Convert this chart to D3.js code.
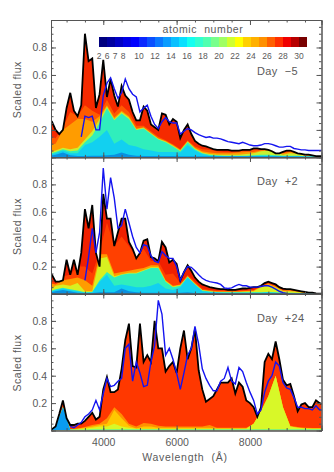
<!DOCTYPE html>
<html>
<head>
<meta charset="utf-8">
<script src="https://cdn.jsdelivr.net/npm/d3@7"></script>
<style>
body { margin: 0; background: #fff; }
svg { display: block; }
text { font-family: "Liberation Sans", sans-serif; fill: #5a5a5a; white-space: pre; }
.axis path, .axis line { stroke: #555; }
.axis text { font-size: 10.5px; fill: #5a5a5a; font-family: "Liberation Sans", sans-serif; }
</style>
</head>
<body>
<div id="chart"></div>
<script>
// flux grid: 2500..10000 A every 100 A (76 values), layer grid: 2500..10100 every 200 A (39 values)
const fluxWave = d3.range(2500, 10001, 100);
const layerWave = d3.range(2500, 10101, 200);

// Day -5
const totalA = [.28,.26,.20,.17,.20,.36,.47,.34,.30,.38,
  .90,.70,.72,.36,.46,.71,.44,.57,.45,.37,
  .52,.45,.42,.33,.27,.27,.37,.34,.24,.22,
  .20,.32,.31,.24,.28,.26,.14,.20,.24,.17,
  .12,.10,.085,.08,.07,.06,.055,.055,.055,.055,
  .05,.05,.05,.055,.055,.055,.065,.065,.06,.06,
  .055,.045,.03,.03,.04,.05,.05,.04,.03,.025,
  .02,.02,.015,.01,.01,.01];
const observedA = [null,null,null,null,null,null,null,null,null,.15,
  .30,.29,.30,.20,.20,.45,.54,.58,.50,.43,
  .47,.57,.50,.46,.44,.33,.36,.38,.30,.24,
  .21,.26,.29,.26,.25,.25,.17,.19,.21,.20,
  .18,.165,.155,.145,.15,.14,.14,.135,.125,.115,
  .11,.105,.10,.11,.10,.09,.085,.085,.09,.10,
  .10,.095,.085,.075,.075,.08,.08,.065,.06,.055,
  .055,.05,.05,.05,.05,.05];
const blueA = [.01,.02,.035,.015,.01,.01,.012,.012,.015,.02,
  .035,.02,.012,.01,.01,.01,.01,.01,.008,.008,
  .008,.008,.008,.008,.008,.008,.008,.008,.008,.008,
  .008,.008,.006,.006,.006,.005,.005,.005,.005];
const cyanA = [.02,.03,.05,.03,.03,.09,.11,.15,.20,.10,
  .13,.09,.08,.06,.05,.04,.04,.04,.035,.09,
  .05,.025,.012,.01,.01,.01,.01,.01,.01,.01,
  .01,.01,.008,.008,.008,.006,.006,.005,.005];
const tealA = [.025,.04,.06,.045,.05,.11,.16,.25,.36,.27,
  .32,.28,.20,.21,.17,.13,.11,.08,.045,.11,
  .06,.03,.02,.015,.012,.012,.012,.012,.015,.02,
  .02,.015,.012,.012,.012,.008,.006,.005,.005];
const limeA = [.03,.05,.07,.06,.07,.13,.19,.28,.37,.28,
  .33,.29,.205,.215,.175,.135,.115,.085,.05,.115,
  .065,.035,.025,.02,.02,.02,.02,.025,.03,.045,
  .05,.035,.02,.03,.025,.012,.008,.006,.005];
const orangeA = [.09,.10,.20,.24,.28,.28,.26,.30,.38,.29,
  .34,.30,.21,.22,.18,.14,.12,.09,.055,.12,
  .07,.045,.035,.03,.03,.03,.035,.04,.04,.05,
  .052,.037,.03,.04,.03,.018,.012,.008,.006];
const redOrangeA = [.16,.14,.22,.33,.30,.38,.34,.31,.42,.32,
  .38,.33,.23,.23,.19,.15,.125,.095,.06,.125,
  .08,.06,.055,.045,.04,.04,.045,.05,.055,.055,
  .055,.04,.032,.045,.03,.02,.014,.01,.008];

// Day +2
const totalB = [.15,.14,.09,.09,.10,.25,.14,.25,.14,.30,
  .62,.48,.65,.30,.20,.73,.55,.55,.35,.45,
  .55,.55,.38,.33,.26,.30,.39,.40,.27,.26,
  .24,.38,.34,.23,.25,.22,.10,.16,.21,.17,
  .12,.09,.07,.06,.05,.045,.04,.035,.035,.03,
  .03,.03,.035,.04,.04,.045,.05,.05,.06,.08,
  .09,.08,.07,.05,.04,.035,.035,.03,.025,.02,
  .015,.01,.01,.005,.003,.002];
const observedB = [null,null,null,null,null,null,null,null,null,null,
  .10,.27,.48,.30,.45,.92,.62,.85,.70,.48,
  .50,.62,.52,.42,.34,.30,.36,.35,.28,.24,
  .23,.31,.28,.26,.26,.20,.10,.16,.20,.195,
  .17,.14,.115,.10,.09,.085,.08,.07,.045,.04,
  .045,.06,.07,.06,.06,.05,.05,.05,.055,.06,
  .06,.05,.035,.02,.01,.005,null,null,null,null,
  null,null,null,null,null,null];
const blueB = [.008,.02,.03,.02,.01,.008,.008,.012,.012,.012,
  .04,.02,.012,.01,.01,.01,.01,.01,.01,.012,
  .008,.006,.006,.006,.006,.006,.006,.006,.006,.006,
  .006,.006,.005,.005,.004,.003,.002,.002,.002];
const cyanB = [.012,.03,.04,.03,.02,.01,.012,.09,.14,.06,
  .07,.06,.05,.05,.06,.08,.04,.03,.05,.12,
  .07,.02,.015,.012,.01,.01,.01,.01,.01,.01,
  .012,.01,.008,.008,.006,.004,.003,.002,.002];
const tealB = [.015,.035,.045,.035,.025,.012,.015,.10,.16,.12,
  .14,.15,.15,.17,.19,.19,.09,.05,.06,.125,
  .07,.025,.018,.012,.012,.012,.012,.012,.012,.012,
  .014,.012,.01,.01,.008,.005,.004,.002,.002];
const limeB = [.02,.06,.07,.06,.08,.02,.02,.26,.27,.13,
  .145,.155,.155,.175,.195,.195,.095,.055,.065,.13,
  .075,.03,.02,.015,.015,.015,.015,.018,.02,.05,
  .07,.05,.02,.02,.015,.008,.005,.003,.002];
const orangeB = [.08,.07,.10,.11,.12,.10,.06,.29,.29,.15,
  .16,.17,.18,.19,.21,.21,.10,.06,.07,.13,
  .08,.03,.025,.02,.02,.02,.02,.022,.025,.055,
  .075,.055,.025,.025,.018,.01,.006,.004,.002];
const redOrangeB = [.10,.08,.13,.14,.20,.20,.15,.31,.52,.35,
  .42,.35,.26,.33,.24,.24,.14,.15,.08,.14,
  .09,.04,.03,.025,.025,.025,.025,.03,.03,.06,
  .08,.06,.03,.03,.02,.012,.008,.004,.003];

// Day +24
const totalC = [.01,.01,.03,.12,.22,.09,.04,.04,.05,.05,
  .07,.10,.13,.08,.10,.30,.39,.28,.28,.30,
  .45,.66,.78,.47,.46,.78,.50,.55,.50,.80,
  .60,.60,.43,.47,.50,.42,.60,.73,.52,.60,
  .74,.44,.30,.21,.23,.25,.30,.35,.35,.35,
  .38,.27,.35,.32,.22,.20,.17,.10,.17,.50,
  .56,.52,.65,.52,.37,.33,.34,.25,.14,.19,
  .20,.17,.17,.22,.20,.19];
const observedC = [null,null,null,null,null,null,.03,.02,.04,.06,
  .10,.12,.15,.22,.15,.27,.38,.32,.33,.36,
  .38,.60,.63,.36,.50,.42,.32,.33,.50,.62,
  .95,.85,.55,.60,.52,.42,.30,.42,.55,.60,
  .76,.63,.45,.38,.33,.29,.29,.36,.38,.46,
  .36,.34,.46,.43,.35,.28,.22,.12,.15,.28,
  .36,.40,.50,.47,.35,.31,.30,.24,.17,.17,
  .16,.16,.15,.18,.15,.15];
const blueC = [0,.03,.17,.005,.003,.003,.004,.004,.004,.004,
  .004,.004,.004,.004,.004,.004,.004,.004,.004,.004,
  .004,.004,.004,.004,.004,.004,.004,.004,.004,.004,
  .004,.004,.004,.004,.004,.004,.003,.003,.003];
const tealC = [.001,.03,.17,.006,.006,.006,.008,.008,.008,.008,
  .008,.008,.008,.008,.008,.008,.008,.008,.008,.008,
  .008,.008,.008,.008,.008,.008,.008,.008,.008,.008,
  .008,.008,.008,.008,.008,.008,.008,.008,.008];
const limeC = [.002,.03,.17,.01,.01,.015,.02,.03,.03,.05,
  .03,.02,.012,.012,.012,.012,.012,.012,.012,.012,
  .012,.012,.012,.012,.012,.012,.012,.012,.05,.14,
  .25,.40,.17,.03,.02,.014,.012,.012,.012];
const goldC = [.002,.03,.17,.01,.012,.02,.03,.04,.05,.15,
  .09,.035,.015,.03,.03,.02,.02,.02,.02,.02,
  .02,.02,.02,.015,.015,.015,.015,.015,.05,.14,
  .25,.40,.17,.03,.02,.016,.014,.014,.014];
const orangeC = [.002,.03,.17,.01,.015,.025,.04,.05,.09,.17,
  .12,.05,.03,.055,.05,.035,.03,.03,.03,.03,
  .03,.03,.04,.02,.02,.02,.02,.02,.05,.14,
  .25,.40,.17,.035,.025,.02,.018,.018,.018];

// colour bar
const barLabels = [2,6,7,8,10,12,14,16,18,20,22,24,26,28,30];
const barNumbers = [2,6,7,8,9,10,11,12,13,14,15,16,17,18,19,20,21,22,23,24,25,26,27,28,29,30];
const barColors = ["#00007f","#0000a0","#0000c4","#0000e6","#0000ff","#0a28ff","#0a50ff","#0a78ff",
  "#0a9cff","#0ac0ff","#0ae0ff","#14fff0","#32ffd0","#50ffb0","#78ff8c","#a0ff64",
  "#d0ff30","#ffff00","#ffd000","#ffb000","#ff9000","#ff6000","#ff3000","#f00000","#b80000","#780000"];

const yTicks = [0.2, 0.4, 0.6, 0.8];
const yMinor = d3.range(0.05, 1, 0.05);
const xTicks = [4000, 6000, 8000];
const xMinor = d3.range(3000, 10000, 500);

const width = 334, height = 472;
const left = 51, right = 321.5;

const x = d3.scaleLinear().domain([2575, 9950]).range([left, right]);

const panels = [
  { top: 20, bottom: 157.4, label: "Day  \u22125", labelY: 75, total: totalA, observed: observedA, topFill: "#f52a00",
    layers: [[redOrangeA, "#ff5a00"], [orangeA, "#ff9c00"], [limeA, "#c8f030"], [tealA, "#30eebc"], [cyanA, "#12d0f0"], [blueA, "#0a90e0"]] },
  { top: 157, bottom: 294, label: "Day  +2", labelY: 185, total: totalB, observed: observedB, topFill: "#f02000",
    layers: [[redOrangeB, "#ff4000"], [orangeB, "#ff9c00"], [limeB, "#d8f020"], [tealB, "#30eebc"], [cyanB, "#12d0f0"], [blueB, "#0a90e0"]] },
  { top: 293.5, bottom: 430.5, label: "Day  +24", labelY: 322, total: totalC, observed: observedC, topFill: "#ff3800",
    layers: [[orangeC, "#ff9000"], [goldC, "#ffc800"], [limeC, "#d8f828"], [tealC, "#30eebc"], [blueC, "#0a9cf0"]] }
];

const svg = d3.select("#chart").append("svg").attr("width", width).attr("height", height);

panels.forEach((p, i) => {
  const y = d3.scaleLinear().domain([0, 1]).range([p.bottom, p.top]);
  const g = svg.append("g");

  svg.append("clipPath").attr("id", "rect" + i).append("rect")
    .attr("x", left).attr("y", p.top).attr("width", right - left).attr("height", p.bottom - p.top);

  const totalArea = d3.area()
    .x((d, k) => x(fluxWave[k]))
    .y0(y(0))
    .y1(d => y(d));

  svg.append("clipPath").attr("id", "flux" + i).append("path").attr("d", totalArea(p.total));

  const plot = g.append("g").attr("clip-path", `url(#rect${i})`);
  const fills = plot.append("g").attr("clip-path", `url(#flux${i})`);

  fills.append("path").attr("d", totalArea(p.total)).attr("fill", p.topFill);

  const layerArea = d3.area()
    .x((d, k) => x(layerWave[k]))
    .y0(y(0))
    .y1(d => y(d));

  p.layers.forEach(l => {
    fills.append("path").attr("d", layerArea(l[0])).attr("fill", l[1]);
  });

  plot.append("path")
    .attr("d", d3.line().x((d, k) => x(fluxWave[k])).y(d => y(d))(p.total))
    .attr("fill", "none").attr("stroke", "#000").attr("stroke-width", 1.8);

  plot.append("path")
    .attr("d", d3.line().defined(d => d !== null).x((d, k) => x(fluxWave[k])).y(d => y(d))(p.observed))
    .attr("fill", "none").attr("stroke", "#1414f0").attr("stroke-width", 1.4);

  // minor ticks first, then major ticks with labels
  g.append("g").attr("class", "axis").attr("transform", `translate(${left},0)`)
    .call(d3.axisLeft(y).tickValues(yMinor).tickSize(-2.5).tickFormat(""));
  g.append("g").attr("class", "axis").attr("transform", `translate(${right},0)`)
    .call(d3.axisRight(y).tickValues(yMinor).tickSize(-2.5).tickFormat(""));
  g.append("g").attr("class", "axis").attr("transform", `translate(${left},0)`)
    .call(d3.axisLeft(y).tickValues(yTicks).tickSize(-5).tickPadding(4).tickFormat(d3.format(".1f")));
  g.append("g").attr("class", "axis").attr("transform", `translate(${right},0)`)
    .call(d3.axisRight(y).tickValues(yTicks).tickSize(-5).tickFormat(""));

  g.append("g").attr("class", "axis").attr("transform", `translate(0,${p.top})`)
    .call(d3.axisTop(x).tickValues(xMinor).tickSize(-2.5).tickFormat(""));
  g.append("g").attr("class", "axis").attr("transform", `translate(0,${p.top})`)
    .call(d3.axisTop(x).tickValues(xTicks).tickSize(-5).tickFormat(""));
  g.append("g").attr("class", "axis").attr("transform", `translate(0,${p.bottom})`)
    .call(d3.axisBottom(x).tickValues(xMinor).tickSize(-2.5).tickFormat(""));
  g.append("g").attr("class", "axis").attr("transform", `translate(0,${p.bottom})`)
    .call(d3.axisBottom(x).tickValues(xTicks).tickSize(-5).tickPadding(8).tickFormat(i === 2 ? d3.format("d") : ""));

  svg.append("text")
    .attr("transform", `translate(21,${(p.top + p.bottom) / 2 + 1}) rotate(-90)`)
    .attr("text-anchor", "middle")
    .attr("font-size", "10.5px").attr("letter-spacing", "0.5px")
    .text("Scaled flux");

  svg.append("text")
    .attr("x", 257).attr("y", p.labelY)
    .attr("font-size", "11px").attr("letter-spacing", "0.4px")
    .text(p.label);
});

// colour bar, one cell per atomic number
const barX = d3.scaleBand().domain(barNumbers).range([99, 307]);

svg.append("g").selectAll("rect").data(barNumbers).enter().append("rect")
  .attr("x", d => barX(d))
  .attr("y", 37)
  .attr("width", barX.bandwidth())
  .attr("height", 10)
  .attr("fill", (d, i) => barColors[i]);

svg.append("g").selectAll("text").data(barLabels).enter().append("text")
  .attr("x", d => barX(d))
  .attr("y", 59)
  .attr("text-anchor", "middle")
  .attr("font-size", "8.5px")
  .text(d => d);

svg.append("text")
  .attr("x", 203).attr("y", 33)
  .attr("text-anchor", "middle")
  .attr("font-size", "10.5px").attr("letter-spacing", "0.6px")
  .text("atomic  number");

svg.append("text")
  .attr("x", 185).attr("y", 461)
  .attr("text-anchor", "middle")
  .attr("font-size", "10.5px").attr("letter-spacing", "0.7px")
  .text("Wavelength  (\u00c5)");
</script>
</body>
</html>
